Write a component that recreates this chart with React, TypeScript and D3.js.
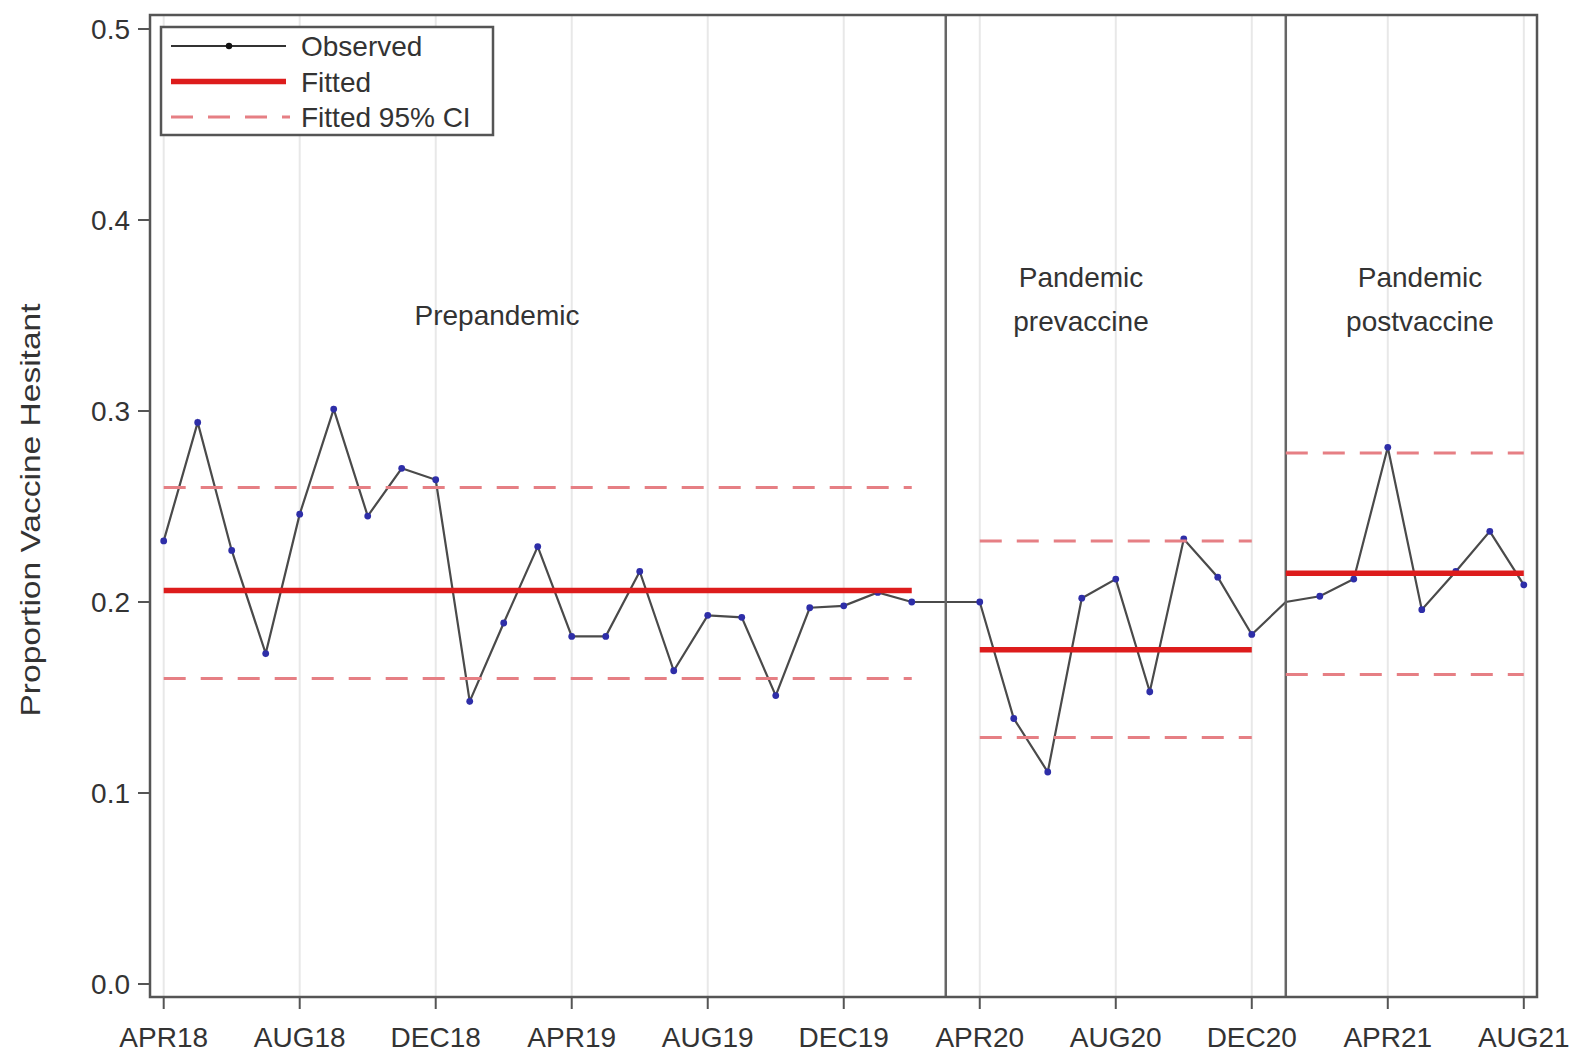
import React from "react";
import * as d3 from "d3";

const months = [
  "APR18","MAY18","JUN18","JUL18","AUG18","SEP18","OCT18","NOV18","DEC18",
  "JAN19","FEB19","MAR19","APR19","MAY19","JUN19","JUL19","AUG19","SEP19","OCT19","NOV19","DEC19",
  "JAN20","FEB20","MAR20","APR20","MAY20","JUN20","JUL20","AUG20","SEP20","OCT20","NOV20","DEC20",
  "JAN21","FEB21","MAR21","APR21","MAY21","JUN21","JUL21","AUG21",
];
const observed = [
  0.232, 0.294, 0.227, 0.173, 0.246, 0.301, 0.245, 0.270, 0.264,
  0.148, 0.189, 0.229, 0.182, 0.182, 0.216, 0.164, 0.193, 0.192, 0.151, 0.197, 0.198,
  0.205, 0.200, 0.200, 0.200, 0.139, 0.111, 0.202, 0.212, 0.153, 0.233, 0.213, 0.183,
  0.200, 0.203, 0.212, 0.281, 0.196, 0.216, 0.237, 0.209,
];
const hiddenMarkers = ["MAR20", "JAN21"];
const tickLabels = ["APR18","AUG18","DEC18","APR19","AUG19","DEC19","APR20","AUG20","DEC20","APR21","AUG21"];
const yTicks = [0.0, 0.1, 0.2, 0.3, 0.4, 0.5];
const separators = ["MAR20", "JAN21"];
const segStart = ["APR18", "APR20", "JAN21"];
const segEnd = ["FEB20", "DEC20", "AUG21"];
const fitted = [0.206, 0.175, 0.215];
const ciLower = [0.160, 0.129, 0.162];
const ciUpper = [0.260, 0.232, 0.278];
const phaseLabels = [["Prepandemic"], ["Pandemic", "prevaccine"], ["Pandemic", "postvaccine"]];
const legendItems = ["Observed", "Fitted", "Fitted 95% CI"];

const W = 1575, H = 1054;
const frame = { left: 150, right: 1537, top: 15, bottom: 997 };

export default function App() {
  const x = d3.scalePoint<string>().domain(months).range([163.7, 1523.8]);
  const y = d3.scaleLinear().domain([0, 0.5]).range([984, 29]);
  const line = d3.line<number>().x((_, i) => x(months[i])!).y((d) => y(d));
  const font = "'Liberation Sans', Arial, sans-serif";
  const textColor = "#333";
  const labelX = [497, 1081, 1420];

  return (
    <svg width={W} height={H} style={{ position: "absolute", left: 0, top: 0, background: "#fff" }}>
      <rect x={0} y={0} width={W} height={H} fill="#fff" />
      {tickLabels.map((t) => (
        <line key={t} x1={x(t)} x2={x(t)} y1={frame.top} y2={frame.bottom} stroke="#e8e8e8" strokeWidth={2} />
      ))}
      {phaseLabels.map((lines, k) =>
        lines.map((s, j) => (
          <text key={k + s} x={labelX[k]} y={(lines.length === 1 ? 325 : 287) + j * 44}
            textAnchor="middle" fontFamily={font} fontSize={28} fill={textColor}>{s}</text>
        ))
      )}
      <path d={line(observed)!} fill="none" stroke="#4a4a4a" strokeWidth={2.2} />
      {observed.map((v, i) =>
        hiddenMarkers.includes(months[i]) ? null : (
          <circle key={i} cx={x(months[i])} cy={y(v)} r={3.4} fill="#2e2ea8" />
        )
      )}
      {separators.map((s) => (
        <line key={s} x1={x(s)} x2={x(s)} y1={frame.top} y2={frame.bottom} stroke="#666" strokeWidth={2.5} />
      ))}
      {segStart.map((s, k) => (
        <g key={s}>
          {[ciLower[k], ciUpper[k]].map((v, j) => (
            <line key={j} x1={x(s)} x2={x(segEnd[k])} y1={y(v)} y2={y(v)}
              stroke="#e67f84" strokeWidth={3} strokeDasharray="22 15" />
          ))}
          <line x1={x(s)} x2={x(segEnd[k])} y1={y(fitted[k])} y2={y(fitted[k])} stroke="#dd1c1c" strokeWidth={5.5} />
        </g>
      ))}
      <rect x={frame.left} y={frame.top} width={frame.right - frame.left} height={frame.bottom - frame.top}
        fill="none" stroke="#555" strokeWidth={2.5} />
      {yTicks.map((t) => (
        <g key={t}>
          <line x1={frame.left - 12} x2={frame.left} y1={y(t)} y2={y(t)} stroke="#555" strokeWidth={2} />
          <text x={frame.left - 20} y={y(t) + 10} textAnchor="end" fontFamily={font} fontSize={28} fill={textColor}>
            {t.toFixed(1)}
          </text>
        </g>
      ))}
      {tickLabels.map((t) => (
        <g key={t}>
          <line x1={x(t)} x2={x(t)} y1={frame.bottom} y2={frame.bottom + 12} stroke="#555" strokeWidth={2} />
          <text x={x(t)} y={1047} textAnchor="middle" fontFamily={font} fontSize={28} fill={textColor}>{t}</text>
        </g>
      ))}
      <text transform="translate(40,510) rotate(-90)" textAnchor="middle" fontFamily={font} fontSize={28}
        fill={textColor} textLength={413} lengthAdjust="spacingAndGlyphs">Proportion Vaccine Hesitant</text>
      <g>
        <rect x={161} y={27} width={332} height={108} fill="#fff" stroke="#555" strokeWidth={2.5} />
        <line x1={171} x2={286} y1={46} y2={46} stroke="#333" strokeWidth={2} />
        <circle cx={229} cy={46} r={3.2} fill="#111" />
        <line x1={171} x2={286} y1={81.5} y2={81.5} stroke="#dd1c1c" strokeWidth={5.5} />
        <line x1={171} x2={290} y1={117} y2={117} stroke="#e67f84" strokeWidth={3} strokeDasharray="22 15" />
        {legendItems.map((s, i) => (
          <text key={s} x={301} y={56 + i * 35.5} fontFamily={font} fontSize={28} fill={textColor}>{s}</text>
        ))}
      </g>
    </svg>
  );
}
